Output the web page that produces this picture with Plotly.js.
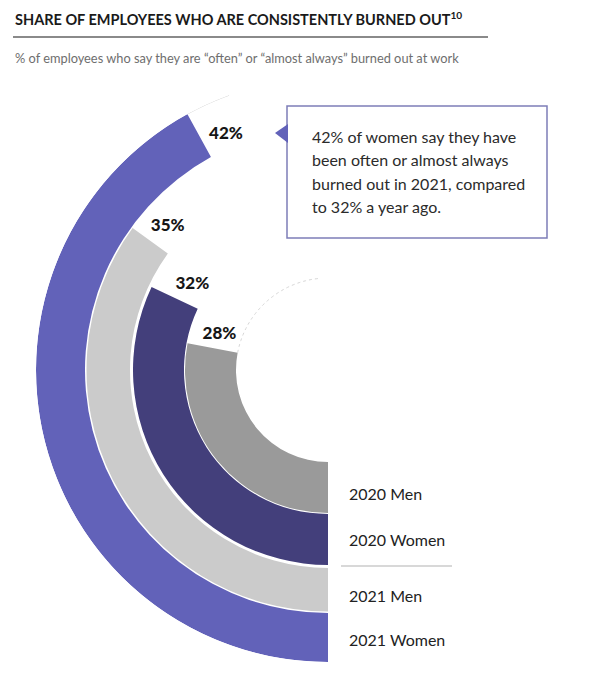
<!DOCTYPE html>
<html>
<head>
<meta charset="utf-8">
<script src="https://cdn.plot.ly/plotly-3.0.1.min.js"></script>
<style>
  html, body { margin: 0; padding: 0; background: #ffffff; }
  #chart { width: 593px; height: 682px; }
</style>
</head>
<body>
<div id="chart"></div>
<script>
// Share of employees who are consistently burned out, by year and gender
const groups = ['2020 Men', '2020 Women', '2021 Men', '2021 Women'];
const burnoutPct = [28, 32, 35, 42];
const valueLabels = ['28%', '32%', '35%', '42%'];
const ringColors = ['#9a9a9a', '#433f7b', '#cbcbcb', '#6262b9'];

const titleText = 'SHARE OF EMPLOYEES WHO ARE CONSISTENTLY BURNED OUT';
const titleNote = '10';
const subtitleText = '% of employees who say they are \u201coften\u201d or \u201calmost always\u201d burned out at work';
const calloutLines = [
  '42% of women say they have',
  'been often or almost always',
  'burned out in 2021, compared',
  'to 32% a year ago.'
];

// ring geometry (radial axis units = pixels of the polar radius)
const ringInner = [92, 144, 198, 243];
const ringOuter = [143, 195, 241.5, 292];
const labelR = [114, 160, 215, 256];
const labelShift = [7, 6.8, 5.8, 5.3];   // degrees past the end of each bar

const W = 593, H = 682;
const px = x => x / W;
const py = y => 1 - y / H;
const DEG_PER_PCT = 360 / 100;

const FONT = 'Lato, "Open Sans", sans-serif';

const bars = {
  type: 'barpolar',
  r: ringOuter.map((o, i) => o - ringInner[i]),
  base: ringInner,
  theta: burnoutPct.map(v => v * DEG_PER_PCT / 2),
  width: burnoutPct.map(v => v * DEG_PER_PCT),
  marker: { color: ringColors, line: { width: 0 } },
  hoverinfo: 'skip',
  showlegend: false
};

const labels = {
  type: 'scatterpolar',
  mode: 'text',
  r: labelR,
  theta: burnoutPct.map((v, i) => v * DEG_PER_PCT + labelShift[i]),
  text: valueLabels,
  textposition: 'middle center',
  textfont: { family: FONT, size: 17, color: '#161616', weight: 900 },
  cliponaxis: false,
  hoverinfo: 'skip',
  showlegend: false
};

// faint track lines continuing the outermost and innermost circles
function arc(r, from, to) {
  const t = [];
  for (let a = from; a <= to + 1e-9; a += 1) t.push(a);
  return { r: t.map(() => r), theta: t };
}
const outerTrack = arc(ringOuter[3], burnoutPct[3] * DEG_PER_PCT, 161);
const innerTrack = arc(ringInner[0], burnoutPct[0] * DEG_PER_PCT, 174);
const tracks = [outerTrack, innerTrack].map((a, i) => ({
  type: 'scatterpolar',
  mode: 'lines',
  r: a.r,
  theta: a.theta,
  line: { color: '#d6d6d6', width: 1, dash: i === 1 ? 'dot' : 'solid' },
  hoverinfo: 'skip',
  showlegend: false,
  cliponaxis: false
}));

const annotations = [
  {
    text: '<b>' + titleText + '</b><sup><b>' + titleNote + '</b></sup>',
    xref: 'paper', yref: 'paper', x: px(13), y: py(19),
    xanchor: 'left', yanchor: 'middle', showarrow: false,
    font: { family: FONT, size: 14.5, color: '#1a1a1a', weight: 900 }
  },
  {
    text: subtitleText,
    xref: 'paper', yref: 'paper', x: px(13), y: py(58),
    xanchor: 'left', yanchor: 'middle', showarrow: false,
    font: { family: FONT, size: 12.8, color: '#6e6e6e' }
  }
];

const calloutY = [136, 159.5, 183, 206.5];
calloutLines.forEach((line, i) => annotations.push({
  text: line,
  xref: 'paper', yref: 'paper', x: px(310), y: py(calloutY[i]),
  xanchor: 'left', yanchor: 'middle', showarrow: false,
  font: { family: FONT, size: 16, color: '#2b2b2b' }
}));

const legendY = [493, 539, 595, 639];
groups.forEach((g, i) => annotations.push({
  text: g,
  xref: 'paper', yref: 'paper', x: px(347), y: py(legendY[i]),
  xanchor: 'left', yanchor: 'middle', showarrow: false,
  font: { family: FONT, size: 16, color: '#222222' }
}));

const shapes = [
  // rule under the title
  { type: 'line', xref: 'paper', yref: 'paper',
    x0: px(13), x1: px(488), y0: py(37), y1: py(37),
    line: { color: '#8a8a8a', width: 2 } },
  // callout box
  { type: 'rect', xref: 'paper', yref: 'paper',
    x0: px(287), x1: px(547), y0: py(106), y1: py(238),
    line: { color: '#7d7db8', width: 1.5 }, fillcolor: '#ffffff' },
  // callout pointer
  { type: 'path', xref: 'paper', yref: 'paper',
    path: 'M ' + px(275) + ' ' + py(133) + ' L ' + px(288) + ' ' + py(124) +
          ' L ' + px(288) + ' ' + py(143) + ' Z',
    fillcolor: '#6262b9', line: { width: 0 } },
  // divider between the 2020 and 2021 labels
  { type: 'line', xref: 'paper', yref: 'paper',
    x0: px(341), x1: px(452), y0: py(566), y1: py(566),
    line: { color: '#d8d8d8', width: 2 } }
];

const layout = {
  width: W, height: H,
  margin: { l: 0, r: 0, t: 0, b: 0 },
  paper_bgcolor: '#ffffff',
  showlegend: false,
  polar: {
    domain: { x: [px(36), px(328)], y: [py(662), py(78)] },
    sector: [90, 270],
    bgcolor: 'rgba(0,0,0,0)',
    radialaxis: { visible: false, range: [0, 292], showgrid: false },
    angularaxis: { visible: false, rotation: 270, direction: 'clockwise',
                   thetaunit: 'degrees', showgrid: false }
  },
  annotations: annotations,
  shapes: shapes
};

Plotly.newPlot('chart', [bars, ...tracks, labels], layout,
  { displayModeBar: false, staticPlot: true });
</script>
</body>
</html>
